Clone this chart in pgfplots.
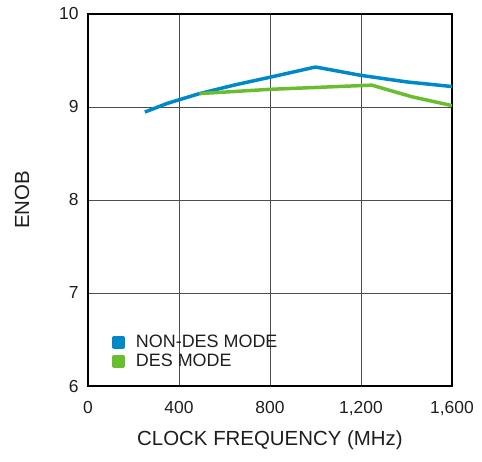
\documentclass[border=0pt]{standalone}
\usepackage{fontspec}
\setmainfont{Liberation Sans}
\usepackage{pgfplots}
\pgfplotsset{compat=1.18}

\definecolor{nondes}{RGB}{0,137,200}
\definecolor{des}{RGB}{104,190,46}
\definecolor{txt}{RGB}{30,30,30}

\begin{document}
\begin{tikzpicture}
\useasboundingbox (-88bp,-76bp) rectangle (394bp,386bp);
\begin{axis}[
    scale only axis,
    width=364bp, height=372bp,
    xmin=0, xmax=1600, ymin=6, ymax=10,
    xtick={0,400,800,1200,1600},
    ytick={6,7,8,9,10},
    grid=major,
    major grid style={black!70, line width=0.8pt},
    axis line style={black, line width=2pt},
    major tick length=0pt,
    /pgf/number format/assume math mode=true,
    /pgf/number format/1000 sep={,},
    ticklabel style={font=\fontsize{17.5}{20}\selectfont, text=txt},
    xticklabel style={yshift=-12bp},
    yticklabel style={xshift=-6bp},
    xlabel={CLOCK FREQUENCY (MHz)},
    ylabel={ENOB},
    label style={font=\fontsize{20.5}{24}\selectfont, text=txt},
    xlabel style={at={(axis description cs:0.5,-0.145)}, anchor=center},
    ylabel style={at={(axis description cs:-0.181,0.5)}, anchor=center},
    legend style={at={(0.066,0.142)}, anchor=north west, draw=none, fill=none,
        font=\fontsize{18}{21}\selectfont, text=txt, row sep=1bp,
        inner sep=0pt},
    legend cell align=left,
    legend image code/.code={
        \fill[#1] (0bp,-4.5bp) rectangle (9bp,4.5bp);
        \path[draw=none, fill=none] (0bp,0bp) -- (20bp,0bp);},
]
\addplot[nondes, line width=3.5pt, line join=round] coordinates {
    (250, 8.946) (350, 9.04) (490, 9.144) (650, 9.24) (800, 9.32)
    (1000, 9.43) (1200, 9.34) (1400, 9.27) (1600, 9.22)
};
\addplot[des, line width=3.5pt, line join=round] coordinates {
    (490, 9.144) (800, 9.19) (1000, 9.21) (1247, 9.235) (1424, 9.11) (1600, 9.015)
};
\legend{NON-DES MODE, DES MODE}
\end{axis}
\end{tikzpicture}
\end{document}
